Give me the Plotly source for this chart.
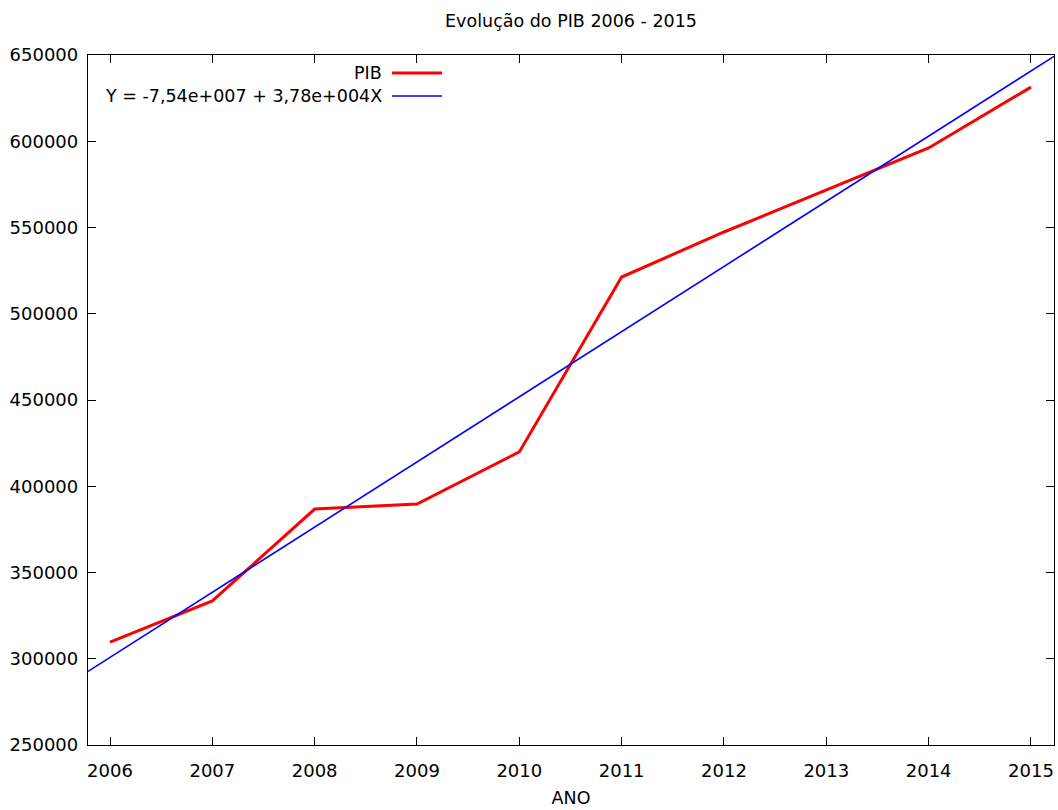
import numpy as np
import plotly.graph_objects as go

# PIB anual (valores lidos em unidades monetárias)
anos = [2006, 2007, 2008, 2009, 2010, 2011, 2012, 2013, 2014, 2015]
pib = [309700, 333500, 386800, 389700, 419900, 521300, 547400, 571700, 596100, 631400]

x_tick_vals = [2006, 2007, 2008, 2009, 2010, 2011, 2012, 2013, 2014, 2015]
y_tick_vals = [250000, 300000, 350000, 400000, 450000, 500000, 550000, 600000, 650000]

legend_pib = "PIB"
legend_fit = "Y = -7,54e+007 + 3,78e+004X"

x_min, x_max = 2005.785, 2015.225
y_min, y_max = 250000, 650000

# Regressão linear por mínimos quadrados
slope, intercept = np.polyfit(anos, pib, 1)
fit_x = np.array([x_min, x_max])
fit_y = intercept + slope * fit_x

FONT = "DejaVu Sans"
TICK_SIZE = 18
TEXT_SIZE = 17.5

fig = go.Figure()
fig.add_trace(go.Scatter(x=anos, y=pib, mode="lines", name=legend_pib,
                         line=dict(color="#ff0000", width=3), showlegend=False))
fig.add_trace(go.Scatter(x=fit_x, y=fit_y, mode="lines", name=legend_fit,
                         line=dict(color="#0000ff", width=1.6), showlegend=False))

axis_common = dict(showgrid=False, zeroline=False, showline=True, mirror="ticks",
                   linecolor="black", linewidth=1.3, ticks="inside", ticklen=8,
                   tickcolor="black", tickwidth=1,
                   tickfont=dict(family=FONT, size=TICK_SIZE, color="black"))

fig.update_xaxes(range=[x_min, x_max], tickvals=x_tick_vals,
                 ticktext=[str(v) for v in x_tick_vals],
                 ticklabelstandoff=9,
                 title=dict(text="ANO", font=dict(family=FONT, size=TEXT_SIZE, color="black"),
                            standoff=11),
                 **axis_common)
fig.update_yaxes(range=[y_min, y_max], tickvals=y_tick_vals,
                 ticktext=[str(v) for v in y_tick_vals],
                 ticklabelstandoff=5,
                 **axis_common)

# Legenda no estilo gnuplot: texto alinhado à direita, amostra da linha à direita
legend_rows = [(legend_pib, "#ff0000", 3, 73), (legend_fit, "#0000ff", 1.6, 96)]
W, H = 1058, 810
l, r, t, b = 88, 4, 55, 65
pw, ph = W - l - r, H - t - b
for text, color, width, ypix in legend_rows:
    yp = 1 - (ypix - t) / ph
    fig.add_annotation(x=(384 - l) / pw, y=yp, xref="paper", yref="paper",
                       text=text, showarrow=False, xanchor="right", yanchor="middle",
                       font=dict(family=FONT, size=TEXT_SIZE, color="black"))
    fig.add_shape(type="line", xref="paper", yref="paper",
                  x0=(392 - l) / pw, x1=(442 - l) / pw, y0=yp, y1=yp,
                  line=dict(color=color, width=width))

fig.update_layout(
    width=W, height=H,
    margin=dict(l=l, r=r, t=t, b=b),
    paper_bgcolor="white", plot_bgcolor="white",
    title=dict(text="Evolução do PIB 2006 - 2015", x=571 / W, xanchor="center",
               y=1 - 21 / H, yanchor="middle",
               font=dict(family=FONT, size=TEXT_SIZE, color="black")),
    font=dict(family=FONT, size=TEXT_SIZE, color="black"),
)

fig.write_html("out.html")
